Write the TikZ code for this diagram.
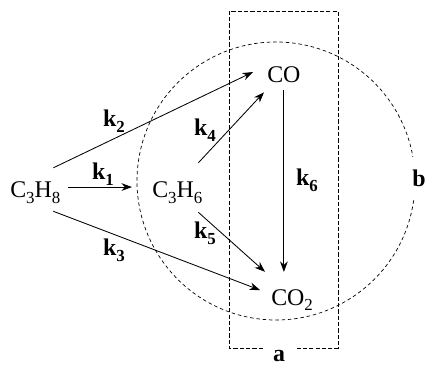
\documentclass[tikz,border=0pt]{standalone}
\usepackage{fontspec}
\setmainfont{Liberation Serif}
\usetikzlibrary{arrows.meta}

\newcommand{\lsub}[1]{\raisebox{-4pt}{\fontsize{12}{12}\selectfont #1}}

\begin{document}
\begin{tikzpicture}[
  x=0.025cm, y=-0.025cm,
  spec/.style={font=\fontsize{17}{20}\selectfont, inner sep=0pt, text height=11.3pt, text depth=0pt, anchor=base west},
  rate/.style={font=\fontsize{17}{20}\selectfont\bfseries, inner sep=0pt},
  react/.style={-{Stealth[length=7.5pt, width=5.5pt]}, line width=0.6pt},
  zonerect/.style={dash pattern=on 3pt off 1.5pt, line width=0.6pt},
  zonecirc/.style={dash pattern=on 2.5pt off 2pt, line width=0.5pt}
]
  \useasboundingbox (0,0) rectangle (425,365);

  % species
  \node[spec] (c3h8) at (10,198)  {C\lsub{3}H\lsub{8}};
  \node[spec] (c3h6) at (152,198) {C\lsub{3}H\lsub{6}};
  \node[spec] (co)   at (267,83)  {CO};
  \node[spec] (co2)  at (271,305) {CO\lsub{2}};

  % reactions
  \draw[react] ([shift={(7,-3)}]c3h8.east)    -- ([shift={(-20,-3)}]c3h6.west);
  \draw[react] ([shift={(18,-14)}]c3h8.north) -- ([shift={(-14,-3)}]co.west);
  \draw[react] ([shift={(18,13)}]c3h8.south)  -- ([shift={(-11,-7)}]co2.west);
  \draw[react] ([shift={(21,-19)}]c3h6.north) -- ([shift={(-3,9)}]co.south west);
  \draw[react] ([shift={(21,14)}]c3h6.south)  -- ([shift={(-6,-17)}]co2.north west);
  \draw[react, shorten <=5pt, shorten >=12pt] (co.south) -- (co.south |- co2.north);

  \node[rate] (k1) at (103,174) {k\lsub{1}};
  \node[rate] (k2) at (114,121) {k\lsub{2}};
  \node[rate] (k3) at (114,250) {k\lsub{3}};
  \node[rate] (k4) at (205,130) {k\lsub{4}};
  \node[rate] (k5) at (205,233) {k\lsub{5}};
  \node[rate] (k6) at (307,180) {k\lsub{6}};

  % regions a and b
  \draw[zonerect] (263,348) -| (229,11) -| (338,348) -- (295,348);
  \node[rate, anchor=base] (lbla) at (279,361) {a};

  \coordinate (bc) at (276,181);
  \draw[zonecirc] ([shift={(8:139)}]bc) arc[start angle=8, end angle=350, radius=139];
  \node[rate, anchor=base west] (lblb) at (412,187) {b};
\end{tikzpicture}
\end{document}
